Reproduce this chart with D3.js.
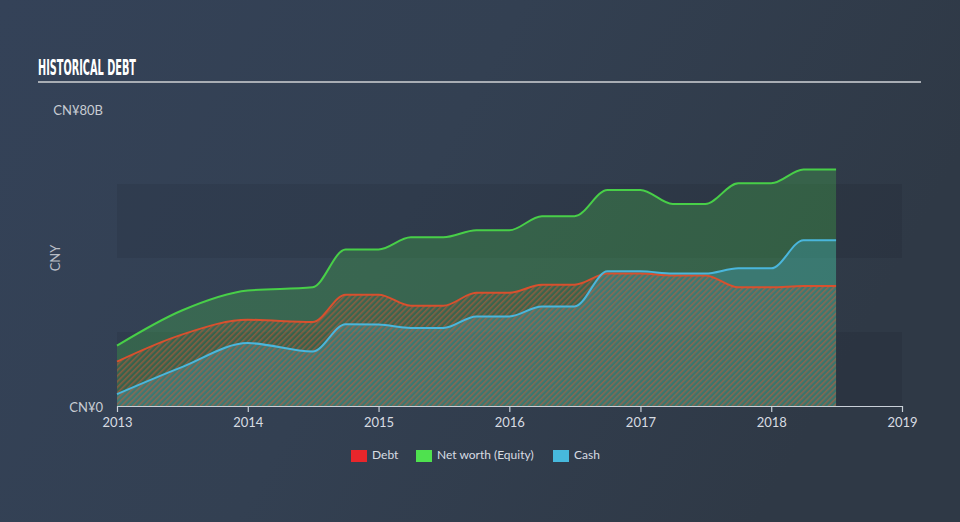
<!DOCTYPE html>
<html><head><meta charset="utf-8">
<script src="https://cdn.jsdelivr.net/npm/d3@7"></script>
<style>
html,body{margin:0;padding:0;background:#323e4f;}
svg{display:block;}
</style></head>
<body>
<svg id="c" width="960" height="522"></svg>
<script>
const dates = ["2013-01-01","2013-07-01","2014-01-01","2014-07-01","2014-10-01","2015-01-01","2015-04-01","2015-07-01","2015-10-01","2016-01-01","2016-04-01","2016-07-01","2016-10-01","2017-01-01","2017-04-01","2017-07-01","2017-10-01","2018-01-01","2018-04-01","2018-07-01"];
const equity = [16.3,25.8,31.2,32.1,42.3,42.3,45.6,45.6,47.5,47.5,51.3,51.3,58.4,58.4,54.6,54.6,60.2,60.2,63.9,63.9];
const debt   = [12.0,19.3,23.3,22.7,30.1,30.1,27.1,27.1,30.6,30.6,32.8,32.8,35.8,35.8,35.3,35.3,32.1,32.1,32.4,32.4];
const cash   = [3.2,10.5,17.0,14.7,22.1,22.0,21.1,21.1,24.2,24.2,26.9,26.9,36.4,36.4,35.8,35.8,37.2,37.2,44.8,44.8];
const xTicks = ["2013","2014","2015","2016","2017","2018","2019"];
const yTickLabels = ["CN¥0","CN¥80B"];
const yTickValues = [0,80];
const legendLabels = ["Debt","Net worth (Equity)","Cash"];
const legendColors = ["#e8262b","#4fe14f","#47b9dd"];

const svg = d3.select("#c");
const W = 960, H = 522;
const parse = d3.timeParse("%Y-%m-%d");
const rows = dates.map((d,i)=>({t:parse(d), e:equity[i], d:debt[i], c:cash[i]}));

const defs = svg.append("defs");
const bg = defs.append("linearGradient").attr("id","bg").attr("x1","0").attr("y1","0").attr("x2","1").attr("y2","0.3");
bg.append("stop").attr("offset","0").attr("stop-color","#344258");
bg.append("stop").attr("offset","0.5").attr("stop-color","#334052");
bg.append("stop").attr("offset","1").attr("stop-color","#2f3946");
const pat = defs.append("pattern").attr("id","hatch").attr("patternUnits","userSpaceOnUse")
  .attr("width",4).attr("height",4).attr("patternTransform","rotate(45)");
pat.append("rect").attr("x",0).attr("y",0).attr("width",1.6).attr("height",4).attr("fill","#e0552f").attr("fill-opacity",0.48);

svg.append("rect").attr("width",W).attr("height",H).attr("fill","url(#bg)");

const x = d3.scaleTime().domain([parse("2013-01-01"), parse("2019-01-01")]).range([117,902]);
const y = d3.scaleLinear().domain([0,80]).range([406,110]);

// bands
[[0,20],[40,60]].forEach(b=>{
  svg.append("rect").attr("x",x.range()[0]).attr("width",x.range()[1]-x.range()[0])
    .attr("y",y(b[1])).attr("height",y(b[0])-y(b[1])).attr("fill","#000").attr("fill-opacity",0.07);
});

// title
svg.append("text").attr("x",38).attr("y",75).text("HISTORICAL DEBT")
  .attr("font-family","'Liberation Sans Narrow','DejaVu Sans Condensed',sans-serif")
  .attr("font-weight","bold").attr("font-size",21).attr("fill","#ffffff")
  .attr("textLength",98).attr("lengthAdjust","spacingAndGlyphs");
svg.append("line").attr("x1",38).attr("x2",921).attr("y1",82).attr("y2",82)
  .attr("stroke","#a8adb4").attr("stroke-width",2);

const curve = d3.curveMonotoneX;
const aE = d3.area().x(r=>x(r.t)).y0(y(0)).y1(r=>y(r.e)).curve(curve);
const aC = d3.area().x(r=>x(r.t)).y0(y(0)).y1(r=>y(r.c)).curve(curve);
const aD = d3.area().x(r=>x(r.t)).y0(y(0)).y1(r=>y(r.d)).curve(curve);
svg.append("path").attr("d",aE(rows)).attr("fill","#4cd34c").attr("fill-opacity",0.26);
svg.append("path").attr("d",aC(rows)).attr("fill","#47b9dd").attr("fill-opacity",0.27);
svg.append("path").attr("d",aD(rows)).attr("fill","url(#hatch)");

const lE = d3.line().x(r=>x(r.t)).y(r=>y(r.e)).curve(curve);
const lD = d3.line().x(r=>x(r.t)).y(r=>y(r.d)).curve(curve);
const lC = d3.line().x(r=>x(r.t)).y(r=>y(r.c)).curve(curve);
svg.append("path").attr("d",lE(rows)).attr("fill","none").attr("stroke","#48cf48").attr("stroke-width",2);
svg.append("path").attr("d",lD(rows)).attr("fill","none").attr("stroke","#d8502e").attr("stroke-width",2);
svg.append("path").attr("d",lC(rows)).attr("fill","none").attr("stroke","#4ab6dc").attr("stroke-width",2);

// x axis
const xAxis = d3.axisBottom(x).tickValues(xTicks.map(s=>parse(s+"-01-01"))).tickFormat(d3.timeFormat("%Y")).tickSize(6).tickSizeOuter(0);
const gx = svg.append("g").attr("transform",`translate(0,${y(0)})`).call(xAxis);
gx.select(".domain").attr("stroke","#c9d0d8").attr("stroke-width",1.2);
gx.selectAll(".tick line").attr("stroke","#c9d0d8").attr("stroke-width",1.2);
gx.selectAll(".tick text").attr("fill","#d8dce2").attr("font-size",13).attr("font-family","Lato,'Open Sans',sans-serif").attr("dy","0.9em");

// y labels
svg.selectAll("text.ylab").data(yTickValues).enter().append("text").attr("class","ylab")
  .attr("x",103).attr("y",v=>y(v)+ (v===0?3:2)).attr("text-anchor","end").attr("dominant-baseline","middle")
  .attr("font-size",13).attr("font-family","Lato,'Open Sans',sans-serif").attr("fill","#c8ccd3")
  .text((v,i)=>yTickLabels[i]);
svg.append("text").attr("transform","translate(60,258) rotate(-90)").attr("text-anchor","middle")
  .attr("font-size",13).attr("font-family","Lato,'Open Sans',sans-serif").attr("fill","#b8bdc5").text("CNY");

// legend
const legX = [351,416,553];
const lg = svg.append("g");
legendLabels.forEach((l,i)=>{
  lg.append("rect").attr("x",legX[i]).attr("y",450).attr("width",16).attr("height",12).attr("fill",legendColors[i]);
  lg.append("text").attr("x",legX[i]+21).attr("y",456).attr("dominant-baseline","middle")
    .attr("font-size",12).attr("font-family","Lato,'Open Sans',sans-serif").attr("fill","#d8dce2").text(l);
});
</script>
</body></html>
